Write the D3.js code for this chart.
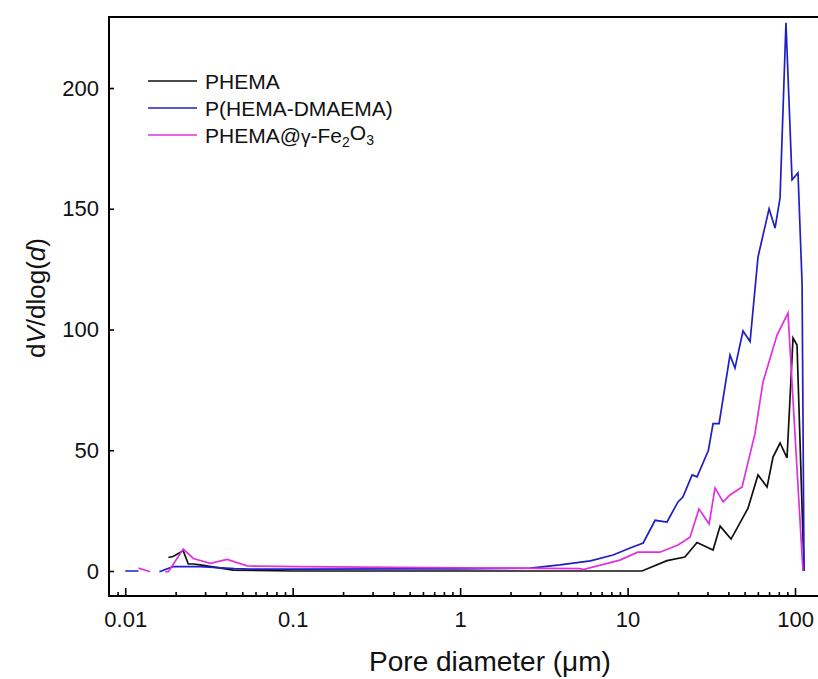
<!DOCTYPE html>
<html>
<head>
<meta charset="utf-8">
<script src="https://cdn.jsdelivr.net/npm/d3@7"></script>
<style>
  body { margin: 0; background: #fff; }
  svg { font-family: "Liberation Sans", Arial, sans-serif; }
</style>
</head>
<body>
<div id="chart"></div>
<script>
// pore size distribution (null = gap in the line)
var phemaD = [0.0181, 0.0193, 0.0222, 0.0238, 0.0255, 0.0281, 0.0441, 0.1, 1.0, 12.2, 17.2, 22.0, 26.0, 32.4, 35.7, 41.5, 52.4, 60.1, 68.1, 73.9, 81.4, 89.6, 97.3, 102.8, 113.2];
var phemaV = [5.6, 6.0, 8.4, 2.9, 2.9, 2.5, 0.4, 0, 0, 0, 4.3, 5.8, 11.8, 8.7, 18.6, 13.2, 26, 39.8, 34.8, 47.2, 53, 46.8, 96.5, 93.6, 0];

var dmaemaD = [0.0100, 0.0120, 0.0140, 0.0160, 0.0193, 0.028, 0.045, 0.056, 0.11, 0.5, 1.0, 2.62, 3.95, 6.0, 8.2, 10.35, 12.4, 14.6, 17.2, 20.0, 21.4, 24.3, 26.0, 30.4, 32.4, 35.2, 40.9, 43.8, 48.9, 53.9, 60.1, 70.0, 76.0, 81.4, 88.3, 96.0, 104.2, 110.2, 113.2];
var dmaemaV = [0, 0, null, -0.3, 1.8, 1.8, 1.0, 0.8, 0.8, 0.9, 0.9, 1.2, 2.5, 4.2, 6.6, 9.5, 11.6, 21, 20.3, 28.6, 30.6, 39.8, 39, 50, 61, 61, 89.4, 84, 99.4, 95, 130, 150, 142, 154.5, 227, 162, 164.8, 119, 0];

var feD = [0.0120, 0.0141, 0.0160, 0.0173, 0.0181, 0.0222, 0.0255, 0.0322, 0.0406, 0.0535, 0.11, 1.0, 5.2, 5.42, 9.0, 11.5, 15.6, 20.0, 23.6, 26.7, 30.7, 33.3, 37.2, 40.9, 48.3, 57.7, 64.4, 78.1, 90.8, 111.5];
var feV = [1.2, -0.3, null, -0.3, -0.3, 9.1, 5.2, 3.2, 4.8, 2.1, 1.8, 1.3, 1.0, 0.6, 4.5, 7.8, 7.8, 10.8, 14, 25.7, 19.5, 34.4, 28.6, 31.5, 34.8, 57, 78.3, 97.7, 106.8, 0];

var xMajor = [0.01, 0.1, 1, 10, 100];
var xMajorLabels = ["0.01", "0.1", "1", "10", "100"];
var yTicks = [0, 50, 100, 150, 200];

var series = [
    { name: "PHEMA", d: phemaD, v: phemaV, color: "#111111" },
    { name: "P(HEMA-DMAEMA)", d: dmaemaD, v: dmaemaV, color: "#1f1fc4" },
    { name: "PHEMA@Fe", d: feD, v: feV, color: "#e030e0" }
];

var W = 818, H = 679;
var m = { left: 109, right: 824.5, top: 17, bottom: 596 };

var svg = d3.select("#chart")
    .append("svg")
    .attr("width", W)
    .attr("height", H);

var x = d3.scaleLog().domain([0.008, 150]).range([m.left, m.right]);
var y = d3.scaleLinear().domain([-10.35, 229.4]).range([m.bottom, m.top]);

// minor ticks 2..9 of each decade
var xMinor = [];
[0.001, 0.01, 0.1, 1, 10, 100].forEach(function (b) {
    for (var k = 2; k <= 9; k++) {
        var t = b * k;
        if (t > 0.0081 && t < 149) xMinor.push(t);
    }
});

var gx = svg.append("g").attr("transform", "translate(0," + m.bottom + ")");
gx.append("g")
    .call(d3.axisBottom(x).tickValues(xMinor).tickSize(-4).tickFormat(""))
    .call(g => g.select(".domain").remove());
gx.append("g")
    .call(d3.axisBottom(x).tickValues(xMajor).tickSize(-8).tickPadding(15)
        .tickFormat((d, i) => xMajorLabels[i]))
    .call(g => g.select(".domain").remove());

svg.append("g")
    .attr("transform", "translate(" + m.left + ",0)")
    .call(d3.axisLeft(y).tickValues(yTicks).tickSize(-5).tickPadding(10))
    .call(g => g.select(".domain").remove());

svg.selectAll(".tick line").attr("stroke", "#000").attr("stroke-width", 1.6);
svg.selectAll(".tick text")
    .attr("font-family", "'Liberation Sans', Arial, sans-serif")
    .attr("font-size", 22)
    .attr("fill", "#111");

// frame
svg.append("rect")
    .attr("x", m.left)
    .attr("y", m.top)
    .attr("width", m.right - m.left)
    .attr("height", m.bottom - m.top)
    .attr("fill", "none")
    .attr("stroke", "#000")
    .attr("stroke-width", 2);

var line = d3.line()
    .defined(p => p[1] != null)
    .x(p => x(p[0]))
    .y(p => y(p[1]));

series.forEach(function (s) {
    var pts = s.d.map((dd, i) => [dd, s.v[i]]);
    svg.append("path")
        .datum(pts)
        .attr("fill", "none")
        .attr("stroke", s.color)
        .attr("stroke-width", 1.7)
        .attr("d", line);
});

// legend
var leg = svg.append("g");
var legY = [81, 108, 135];
series.forEach(function (s, i) {
    leg.append("line")
        .attr("x1", 148).attr("x2", 197)
        .attr("y1", legY[i]).attr("y2", legY[i])
        .attr("stroke", s.color)
        .attr("stroke-width", 1.7);
});
leg.append("text").attr("x", 205).attr("y", legY[0]).attr("dy", "0.36em")
    .attr("font-size", 21).attr("fill", "#111").text("PHEMA");
leg.append("text").attr("x", 205).attr("y", legY[1]).attr("dy", "0.36em")
    .attr("font-size", 21).attr("fill", "#111").text("P(HEMA-DMAEMA)");
var t3 = leg.append("text").attr("x", 205).attr("y", legY[2]).attr("dy", "0.36em")
    .attr("font-size", 21).attr("fill", "#111");
t3.append("tspan").text("PHEMA@");
t3.append("tspan").text("\u03b3").attr("font-size", 19);
t3.append("tspan").text("-Fe");
t3.append("tspan").text("2").attr("font-size", 14).attr("dy", "0.3em");
t3.append("tspan").text("O").attr("dy", "-0.3em");
t3.append("tspan").text("3").attr("font-size", 14).attr("dy", "0.3em");

// axis titles
var xt = svg.append("text")
    .attr("x", 490)
    .attr("y", 671)
    .attr("text-anchor", "middle")
    .attr("font-size", 28)
    .attr("fill", "#111");
xt.append("tspan").text("Pore diameter (");
xt.append("tspan").text("\u03bc");
xt.append("tspan").text("m)");

var yt = svg.append("text")
    .attr("transform", "translate(45,298) rotate(-90)")
    .attr("text-anchor", "middle")
    .attr("font-size", 26)
    .attr("fill", "#111");
yt.append("tspan").text("d");
yt.append("tspan").text("V").attr("font-style", "italic");
yt.append("tspan").text("/dlog(");
yt.append("tspan").text("d").attr("font-style", "italic");
yt.append("tspan").text(")");
</script>
</body>
</html>
